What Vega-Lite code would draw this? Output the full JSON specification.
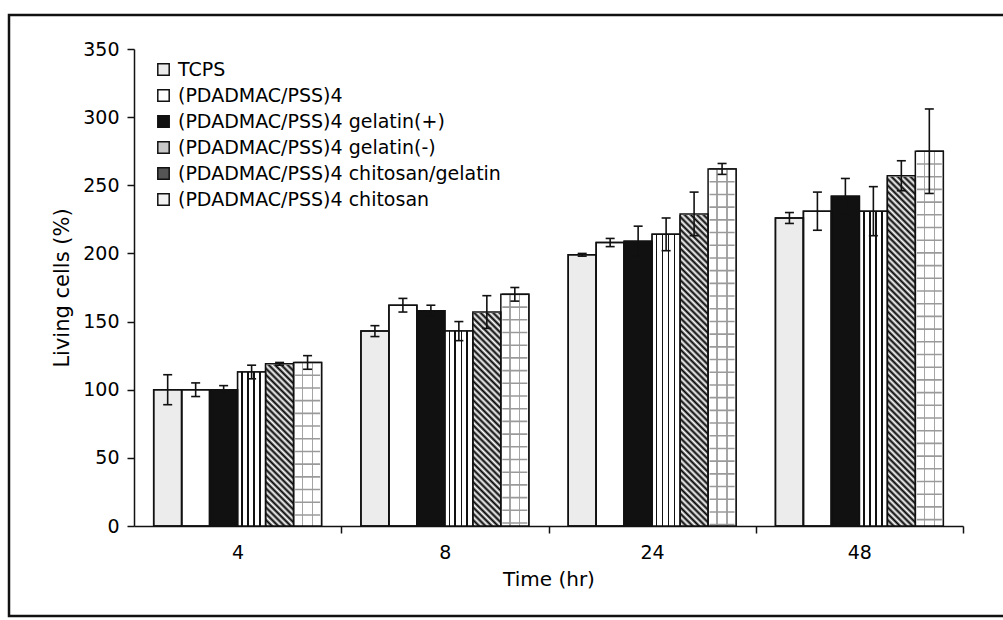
{
  "$schema": "https://vega.github.io/schema/vega-lite/v6.json",
  "width": 1000,
  "height": 601,
  "autosize": {"type": "none"},
  "padding": {"left": 9, "top": 15, "right": -6, "bottom": 4},
  "background": "white",
  "config": {
    "font": "DejaVu Sans",
    "view": {"stroke": "#111", "strokeWidth": 2.5},
    "axis": {
      "grid": false,
      "domainColor": "#111",
      "domainWidth": 1.5,
      "tickColor": "#111",
      "tickWidth": 1.5,
      "labelColor": "#000",
      "titleColor": "#000",
      "labelFont": "DejaVu Sans",
      "titleFont": "DejaVu Sans",
      "labelFontSize": 19,
      "titleFontWeight": "normal"
    },
    "legend": {
      "labelFont": "DejaVu Sans",
      "labelFontSize": 19,
      "labelColor": "#000",
      "labelLimit": 500
    }
  },
  "data": {
    "values": [
      {"time": "4", "series": "TCPS", "value": 100, "lo": 89, "hi": 111},
      {"time": "4", "series": "(PDADMAC/PSS)4", "value": 100, "lo": 95, "hi": 105},
      {"time": "4", "series": "(PDADMAC/PSS)4 gelatin(+)", "value": 100, "lo": 97, "hi": 103},
      {"time": "4", "series": "(PDADMAC/PSS)4 gelatin(-)", "value": 113, "lo": 108, "hi": 118},
      {"time": "4", "series": "(PDADMAC/PSS)4 chitosan/gelatin", "value": 119, "lo": 118, "hi": 120},
      {"time": "4", "series": "(PDADMAC/PSS)4 chitosan", "value": 120, "lo": 115, "hi": 125},
      {"time": "8", "series": "TCPS", "value": 143, "lo": 139, "hi": 147},
      {"time": "8", "series": "(PDADMAC/PSS)4", "value": 162, "lo": 157, "hi": 167},
      {"time": "8", "series": "(PDADMAC/PSS)4 gelatin(+)", "value": 158, "lo": 154, "hi": 162},
      {"time": "8", "series": "(PDADMAC/PSS)4 gelatin(-)", "value": 143, "lo": 136, "hi": 150},
      {"time": "8", "series": "(PDADMAC/PSS)4 chitosan/gelatin", "value": 157, "lo": 145, "hi": 169},
      {"time": "8", "series": "(PDADMAC/PSS)4 chitosan", "value": 170, "lo": 165, "hi": 175},
      {"time": "24", "series": "TCPS", "value": 199, "lo": 198, "hi": 200},
      {"time": "24", "series": "(PDADMAC/PSS)4", "value": 208, "lo": 205, "hi": 211},
      {"time": "24", "series": "(PDADMAC/PSS)4 gelatin(+)", "value": 209, "lo": 198, "hi": 220},
      {"time": "24", "series": "(PDADMAC/PSS)4 gelatin(-)", "value": 214, "lo": 202, "hi": 226},
      {"time": "24", "series": "(PDADMAC/PSS)4 chitosan/gelatin", "value": 229, "lo": 213, "hi": 245},
      {"time": "24", "series": "(PDADMAC/PSS)4 chitosan", "value": 262, "lo": 258, "hi": 266},
      {"time": "48", "series": "TCPS", "value": 226, "lo": 222, "hi": 230},
      {"time": "48", "series": "(PDADMAC/PSS)4", "value": 231, "lo": 217, "hi": 245},
      {"time": "48", "series": "(PDADMAC/PSS)4 gelatin(+)", "value": 242, "lo": 229, "hi": 255},
      {"time": "48", "series": "(PDADMAC/PSS)4 gelatin(-)", "value": 231, "lo": 213, "hi": 249},
      {"time": "48", "series": "(PDADMAC/PSS)4 chitosan/gelatin", "value": 257, "lo": 246, "hi": 268},
      {"time": "48", "series": "(PDADMAC/PSS)4 chitosan", "value": 275, "lo": 244, "hi": 306}
    ]
  },
  "encoding": {
    "x": {
      "field": "time",
      "type": "nominal",
      "sort": ["4", "8", "24", "48"],
      "scale": {"domain": ["4", "8", "24", "48"], "range": [125, 954], "paddingInner": 0.19, "paddingOuter": 0.095},
      "axis": {
        "orient": "bottom",
        "offset": -90,
        "title": "Time (hr)",
        "titleFontSize": 20,
        "titlePadding": 7,
        "labelAngle": 0,
        "tickSize": 7,
        "labelPadding": 10,
        "bandPosition": 1,
        "tickExtra": false,
        "tickOffset": 19.7,
        "labelOffset": -19.7
      }
    },
    "xOffset": {
      "field": "series",
      "type": "nominal",
      "scale": {
        "domain": ["TCPS", "(PDADMAC/PSS)4", "(PDADMAC/PSS)4 gelatin(+)", "(PDADMAC/PSS)4 gelatin(-)", "(PDADMAC/PSS)4 chitosan/gelatin", "(PDADMAC/PSS)4 chitosan"],
        "paddingInner": 0,
        "paddingOuter": 0
      }
    }
  },
  "layer": [
    {
      "mark": {"type": "bar", "stroke": "#111", "strokeWidth": 1.5},
      "encoding": {
        "y": {
          "field": "value",
          "type": "quantitative",
          "title": "Living cells (%)",
          "scale": {"domain": [0, 350], "range": [511, 34], "nice": false},
          "axis": {
            "orient": "left",
            "offset": -125,
            "values": [0, 50, 100, 150, 200, 250, 300, 350],
            "tickSize": 7,
            "labelPadding": 8,
            "titleFontSize": 21,
            "titlePadding": 10
          }
        },
        "fill": {
          "field": "series",
          "type": "nominal",
          "scale": {
            "domain": ["TCPS", "(PDADMAC/PSS)4", "(PDADMAC/PSS)4 gelatin(+)", "(PDADMAC/PSS)4 gelatin(-)", "(PDADMAC/PSS)4 chitosan/gelatin", "(PDADMAC/PSS)4 chitosan"],
            "range": ["#ececec", "#ffffff", "#111111", "#c8c8c8", "#555555", "#f2f2f2"]
          },
          "legend": {
            "title": null,
            "orient": "none",
            "legendX": 145,
            "legendY": 45,
            "padding": 0,
            "symbolType": "square",
            "symbolSize": 130,
            "symbolStrokeColor": "#111",
            "symbolStrokeWidth": 1.5,
            "symbolOpacity": 1,
            "rowPadding": 6,
            "labelOffset": 5
          }
        }
      }
    },
    {
      "transform": [{"filter": "datum.series === '(PDADMAC/PSS)4 gelatin(-)'"}],
      "mark": {
        "type": "bar",
        "strokeWidth": 0,
        "fill": {"gradient": "linear", "x1": 0, "y1": 0, "x2": 1, "y2": 0, "stops": [
          {"offset": 0, "color": "#fff"}, {"offset": 0.13, "color": "#fff"},
          {"offset": 0.13, "color": "#111"}, {"offset": 0.19, "color": "#111"},
          {"offset": 0.19, "color": "#fff"}, {"offset": 0.34, "color": "#fff"},
          {"offset": 0.34, "color": "#111"}, {"offset": 0.4, "color": "#111"},
          {"offset": 0.4, "color": "#fff"}, {"offset": 0.56, "color": "#fff"},
          {"offset": 0.56, "color": "#111"}, {"offset": 0.62, "color": "#111"},
          {"offset": 0.62, "color": "#fff"}, {"offset": 0.77, "color": "#fff"},
          {"offset": 0.77, "color": "#111"}, {"offset": 0.83, "color": "#111"},
          {"offset": 0.83, "color": "#fff"}, {"offset": 1, "color": "#fff"}
        ]}
      },
      "encoding": {
        "y": {"field": "value", "type": "quantitative", "title": "Living cells (%)"}
      }
    },
    {
      "transform": [{"filter": "datum.series === '(PDADMAC/PSS)4 chitosan'"}],
      "mark": {
        "type": "bar",
        "strokeWidth": 0,
        "fill": {"gradient": "linear", "x1": 0, "y1": 0, "x2": 1, "y2": 0, "stops": [
          {"offset": 0, "color": "#fff"}, {"offset": 0.3, "color": "#fff"},
          {"offset": 0.3, "color": "#a5a5a5"}, {"offset": 0.35, "color": "#a5a5a5"},
          {"offset": 0.35, "color": "#fff"}, {"offset": 0.65, "color": "#fff"},
          {"offset": 0.65, "color": "#a5a5a5"}, {"offset": 0.7, "color": "#a5a5a5"},
          {"offset": 0.7, "color": "#fff"}, {"offset": 1, "color": "#fff"}
        ]}
      },
      "encoding": {
        "y": {"field": "value", "type": "quantitative", "title": "Living cells (%)"}
      }
    },
    {
      "transform": [{"filter": "datum.series === '(PDADMAC/PSS)4 chitosan/gelatin'"}],
      "mark": {
        "type": "bar",
        "strokeWidth": 0,
        "fill": {"gradient": "linear", "x1": 0, "y1": 1, "x2": 0.0619, "y2": -0.055, "stops": [
          {"offset": 0, "color": "#000"}, {"offset": 0.00625, "color": "#fff"}, {"offset": 0.0125, "color": "#000"}, {"offset": 0.01875, "color": "#fff"},
          {"offset": 0.025, "color": "#000"}, {"offset": 0.03125, "color": "#fff"}, {"offset": 0.0375, "color": "#000"}, {"offset": 0.04375, "color": "#fff"},
          {"offset": 0.05, "color": "#000"}, {"offset": 0.05625, "color": "#fff"}, {"offset": 0.0625, "color": "#000"}, {"offset": 0.06875, "color": "#fff"},
          {"offset": 0.075, "color": "#000"}, {"offset": 0.08125, "color": "#fff"}, {"offset": 0.0875, "color": "#000"}, {"offset": 0.09375, "color": "#fff"},
          {"offset": 0.1, "color": "#000"}, {"offset": 0.10625, "color": "#fff"}, {"offset": 0.1125, "color": "#000"}, {"offset": 0.11875, "color": "#fff"},
          {"offset": 0.125, "color": "#000"}, {"offset": 0.13125, "color": "#fff"}, {"offset": 0.1375, "color": "#000"}, {"offset": 0.14375, "color": "#fff"},
          {"offset": 0.15, "color": "#000"}, {"offset": 0.15625, "color": "#fff"}, {"offset": 0.1625, "color": "#000"}, {"offset": 0.16875, "color": "#fff"},
          {"offset": 0.175, "color": "#000"}, {"offset": 0.18125, "color": "#fff"}, {"offset": 0.1875, "color": "#000"}, {"offset": 0.19375, "color": "#fff"},
          {"offset": 0.2, "color": "#000"}, {"offset": 0.20625, "color": "#fff"}, {"offset": 0.2125, "color": "#000"}, {"offset": 0.21875, "color": "#fff"},
          {"offset": 0.225, "color": "#000"}, {"offset": 0.23125, "color": "#fff"}, {"offset": 0.2375, "color": "#000"}, {"offset": 0.24375, "color": "#fff"},
          {"offset": 0.25, "color": "#000"}, {"offset": 0.25625, "color": "#fff"}, {"offset": 0.2625, "color": "#000"}, {"offset": 0.26875, "color": "#fff"},
          {"offset": 0.275, "color": "#000"}, {"offset": 0.28125, "color": "#fff"}, {"offset": 0.2875, "color": "#000"}, {"offset": 0.29375, "color": "#fff"},
          {"offset": 0.3, "color": "#000"}, {"offset": 0.30625, "color": "#fff"}, {"offset": 0.3125, "color": "#000"}, {"offset": 0.31875, "color": "#fff"},
          {"offset": 0.325, "color": "#000"}, {"offset": 0.33125, "color": "#fff"}, {"offset": 0.3375, "color": "#000"}, {"offset": 0.34375, "color": "#fff"},
          {"offset": 0.35, "color": "#000"}, {"offset": 0.35625, "color": "#fff"}, {"offset": 0.3625, "color": "#000"}, {"offset": 0.36875, "color": "#fff"},
          {"offset": 0.375, "color": "#000"}, {"offset": 0.38125, "color": "#fff"}, {"offset": 0.3875, "color": "#000"}, {"offset": 0.39375, "color": "#fff"},
          {"offset": 0.4, "color": "#000"}, {"offset": 0.40625, "color": "#fff"}, {"offset": 0.4125, "color": "#000"}, {"offset": 0.41875, "color": "#fff"},
          {"offset": 0.425, "color": "#000"}, {"offset": 0.43125, "color": "#fff"}, {"offset": 0.4375, "color": "#000"}, {"offset": 0.44375, "color": "#fff"},
          {"offset": 0.45, "color": "#000"}, {"offset": 0.45625, "color": "#fff"}, {"offset": 0.4625, "color": "#000"}, {"offset": 0.46875, "color": "#fff"},
          {"offset": 0.475, "color": "#000"}, {"offset": 0.48125, "color": "#fff"}, {"offset": 0.4875, "color": "#000"}, {"offset": 0.49375, "color": "#fff"},
          {"offset": 0.5, "color": "#000"}, {"offset": 0.50625, "color": "#fff"}, {"offset": 0.5125, "color": "#000"}, {"offset": 0.51875, "color": "#fff"},
          {"offset": 0.525, "color": "#000"}, {"offset": 0.53125, "color": "#fff"}, {"offset": 0.5375, "color": "#000"}, {"offset": 0.54375, "color": "#fff"},
          {"offset": 0.55, "color": "#000"}, {"offset": 0.55625, "color": "#fff"}, {"offset": 0.5625, "color": "#000"}, {"offset": 0.56875, "color": "#fff"},
          {"offset": 0.575, "color": "#000"}, {"offset": 0.58125, "color": "#fff"}, {"offset": 0.5875, "color": "#000"}, {"offset": 0.59375, "color": "#fff"},
          {"offset": 0.6, "color": "#000"}, {"offset": 0.60625, "color": "#fff"}, {"offset": 0.6125, "color": "#000"}, {"offset": 0.61875, "color": "#fff"},
          {"offset": 0.625, "color": "#000"}, {"offset": 0.63125, "color": "#fff"}, {"offset": 0.6375, "color": "#000"}, {"offset": 0.64375, "color": "#fff"},
          {"offset": 0.65, "color": "#000"}, {"offset": 0.65625, "color": "#fff"}, {"offset": 0.6625, "color": "#000"}, {"offset": 0.66875, "color": "#fff"},
          {"offset": 0.675, "color": "#000"}, {"offset": 0.68125, "color": "#fff"}, {"offset": 0.6875, "color": "#000"}, {"offset": 0.69375, "color": "#fff"},
          {"offset": 0.7, "color": "#000"}, {"offset": 0.70625, "color": "#fff"}, {"offset": 0.7125, "color": "#000"}, {"offset": 0.71875, "color": "#fff"},
          {"offset": 0.725, "color": "#000"}, {"offset": 0.73125, "color": "#fff"}, {"offset": 0.7375, "color": "#000"}, {"offset": 0.74375, "color": "#fff"},
          {"offset": 0.75, "color": "#000"}, {"offset": 0.75625, "color": "#fff"}, {"offset": 0.7625, "color": "#000"}, {"offset": 0.76875, "color": "#fff"},
          {"offset": 0.775, "color": "#000"}, {"offset": 0.78125, "color": "#fff"}, {"offset": 0.7875, "color": "#000"}, {"offset": 0.79375, "color": "#fff"},
          {"offset": 0.8, "color": "#000"}, {"offset": 0.80625, "color": "#fff"}, {"offset": 0.8125, "color": "#000"}, {"offset": 0.81875, "color": "#fff"},
          {"offset": 0.825, "color": "#000"}, {"offset": 0.83125, "color": "#fff"}, {"offset": 0.8375, "color": "#000"}, {"offset": 0.84375, "color": "#fff"},
          {"offset": 0.85, "color": "#000"}, {"offset": 0.85625, "color": "#fff"}, {"offset": 0.8625, "color": "#000"}, {"offset": 0.86875, "color": "#fff"},
          {"offset": 0.875, "color": "#000"}, {"offset": 0.88125, "color": "#fff"}, {"offset": 0.8875, "color": "#000"}, {"offset": 0.89375, "color": "#fff"},
          {"offset": 0.9, "color": "#000"}, {"offset": 0.90625, "color": "#fff"}, {"offset": 0.9125, "color": "#000"}, {"offset": 0.91875, "color": "#fff"},
          {"offset": 0.925, "color": "#000"}, {"offset": 0.93125, "color": "#fff"}, {"offset": 0.9375, "color": "#000"}, {"offset": 0.94375, "color": "#fff"},
          {"offset": 0.95, "color": "#000"}, {"offset": 0.95625, "color": "#fff"}, {"offset": 0.9625, "color": "#000"}, {"offset": 0.96875, "color": "#fff"},
          {"offset": 0.975, "color": "#000"}, {"offset": 0.98125, "color": "#fff"}, {"offset": 0.9875, "color": "#000"}, {"offset": 0.99375, "color": "#fff"},
          {"offset": 1, "color": "#000"}
        ]}
      },
      "encoding": {
        "y": {"datum": 350, "type": "quantitative"},
        "y2": {"datum": 0}
      }
    },
    {
      "transform": [{"filter": "datum.series === '(PDADMAC/PSS)4 chitosan/gelatin'"}],
      "mark": {"type": "bar", "fill": "white", "stroke": "white", "strokeWidth": 2},
      "encoding": {
        "y": {"field": "value", "type": "quantitative", "title": "Living cells (%)"},
        "y2": {"datum": 351}
      }
    },
    {
      "transform": [{"filter": "datum.series === '(PDADMAC/PSS)4 chitosan'"}],
      "mark": {"type": "rule", "stroke": "#9a9a9a", "strokeWidth": 25, "strokeCap": "butt", "strokeDash": [1.6, 11.1], "strokeDashOffset": 0.7},
      "encoding": {
        "y": {"field": "value", "type": "quantitative", "title": "Living cells (%)"},
        "y2": {"datum": 0}
      }
    },
    {
      "mark": {"type": "bar", "fillOpacity": 0, "stroke": "#111", "strokeWidth": 1.5},
      "encoding": {
        "y": {"field": "value", "type": "quantitative", "title": "Living cells (%)"}
      }
    },
    {
      "mark": {"type": "rule", "stroke": "#111", "strokeWidth": 1.6},
      "encoding": {
        "y": {"field": "lo", "type": "quantitative", "title": "Living cells (%)"},
        "y2": {"field": "hi"}
      }
    },
    {
      "mark": {"type": "tick", "color": "#111", "opacity": 1, "thickness": 1.6, "size": 9},
      "encoding": {
        "y": {"field": "lo", "type": "quantitative", "title": "Living cells (%)"}
      }
    },
    {
      "mark": {"type": "tick", "color": "#111", "opacity": 1, "thickness": 1.6, "size": 9},
      "encoding": {
        "y": {"field": "hi", "type": "quantitative", "title": "Living cells (%)"}
      }
    }
  ]
}
